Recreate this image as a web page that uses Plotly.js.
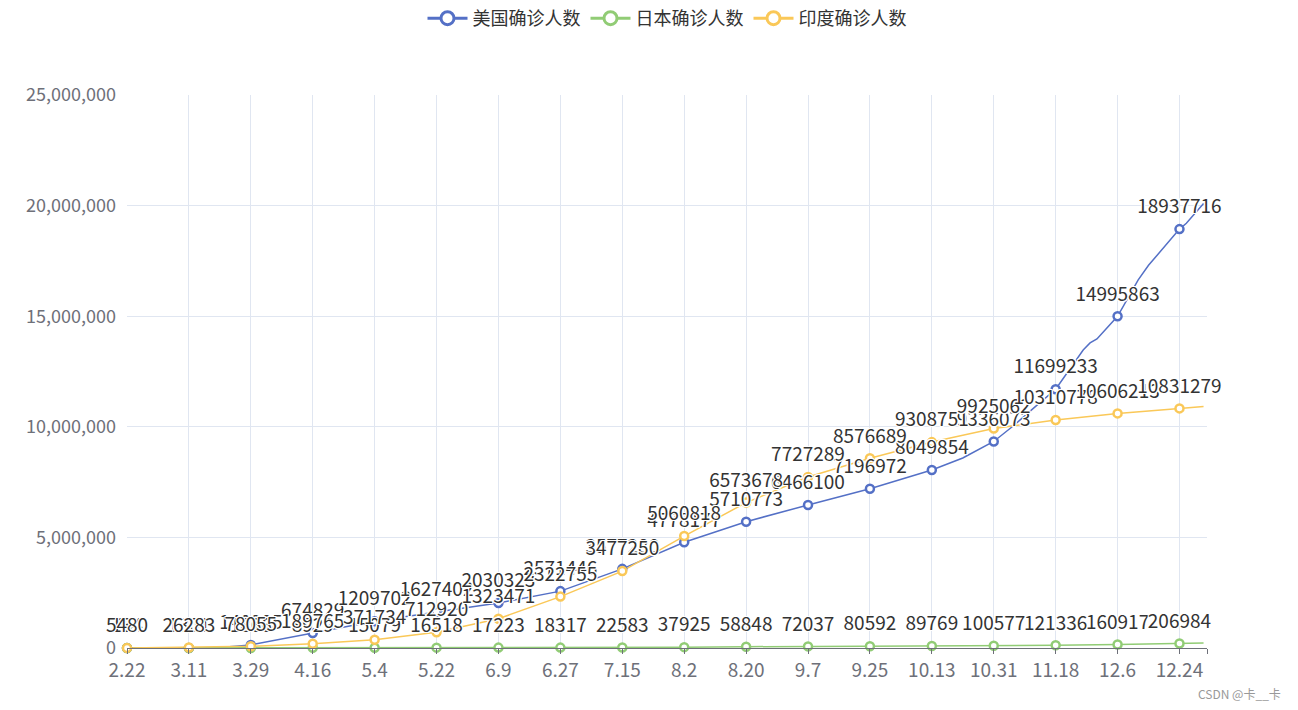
<!DOCTYPE html>
<html>
<head>
<meta charset="utf-8">
<script src="https://cdn.plot.ly/plotly-3.0.1.min.js"></script>
<style>
html,body{margin:0;padding:0;background:#fff;}
#chart{width:1298px;height:710px;}
</style>
</head>
<body>
<div id="chart"></div>
<script>
// Labelled category dates (every 18th day) and their tick labels
const tickDates = ['2020-02-22','2020-03-11','2020-03-29','2020-04-16','2020-05-04','2020-05-22','2020-06-09','2020-06-27','2020-07-15','2020-08-02','2020-08-20','2020-09-07','2020-09-25','2020-10-13','2020-10-31','2020-11-18','2020-12-06','2020-12-24'];
const tickLabels = ['2.22','3.11','3.29','4.16','5.4','5.22','6.9','6.27','7.15','8.2','8.20','9.7','9.25','10.13','10.31','11.18','12.6','12.24'];
const axisEndDate = '2021-01-01';

// Values at the labelled dates
const usLabelValues = [35, 1301, 140905, 674829, 1209702, 1627402, 2030323, 2571446, 3577280, 4778177, 5710773, 6466100, 7196972, 8049854, 9336073, 11699233, 14995863, 18937716];
const jpLabelValues = [134, 620, 1866, 8929, 15079, 16518, 17223, 18317, 22583, 37925, 58848, 72037, 80592, 89769, 100577, 121336, 160917, 206984];
const inLabelValues = [5480, 26283, 78055, 189765, 371734, 712920, 1323471, 2322755, 3477250, 5060818, 6573678, 7727289, 8576689, 9308751, 9925062, 10310778, 10606213, 10831279];

// Extra (unlabelled) points
const usExtraDates = ['2020-03-20','2020-10-22','2020-11-06','2020-11-12','2020-11-26','2020-11-28','2020-11-30','2020-12-12','2020-12-15','2020-12-26','2020-12-31'];
const usExtraValues = [19000, 8588000, 10082000, 10902000, 13470000, 13790000, 13970000, 16640000, 17300000, 19200000, 20100000];
const jpExtraDates = ['2020-12-31'];
const jpExtraValues = [231000];
const inExtraDates = ['2020-12-31'];
const inExtraValues = [10920000];

const seriesNames = ['美国确诊人数', '日本确诊人数', '印度确诊人数'];
const seriesColors = ['#5470C6', '#91CC75', '#FAC858'];

function merge(d1, v1, d2, v2) {
  const pts = d1.map((d, i) => [d, v1[i]]).concat(d2.map((d, i) => [d, v2[i]]));
  pts.sort((a, b) => a[0] < b[0] ? -1 : a[0] > b[0] ? 1 : 0);
  return {x: pts.map(p => p[0]), y: pts.map(p => p[1])};
}

const FONT = '"Noto Sans CJK SC", "Noto Sans", sans-serif';
const lines = [
  merge(tickDates, usLabelValues, usExtraDates, usExtraValues),
  merge(tickDates, jpLabelValues, jpExtraDates, jpExtraValues),
  merge(tickDates, inLabelValues, inExtraDates, inExtraValues)
];
const labelSets = [usLabelValues, jpLabelValues, inLabelValues];

const traces = [];
// lines
lines.forEach((l, i) => {
  traces.push({
    type: 'scatter', mode: 'lines', x: l.x, y: l.y,
    line: {color: seriesColors[i], width: 1.5},
    showlegend: false, hoverinfo: 'skip'
  });
});
// hollow symbols at labelled dates
labelSets.forEach((vals, i) => {
  traces.push({
    type: 'scatter', mode: 'markers', x: tickDates, y: vals,
    marker: {symbol: 'circle', size: 8, color: '#ffffff', line: {color: seriesColors[i], width: 2.5}},
    showlegend: false, hoverinfo: 'skip', cliponaxis: false
  });
});
// value labels
labelSets.forEach((vals, i) => {
  traces.push({
    type: 'scatter', mode: 'markers+text', x: tickDates, y: vals,
    text: vals.map(v => String(v)),
    marker: {size: 16, opacity: 0},
    textposition: 'top center',
    textfont: {family: FONT, size: 19, color: '#333333',
      shadow: '1px 1px 0 #fff, -1px 1px 0 #fff, 1px -1px 0 #fff, -1px -1px 0 #fff, 0 1px 0 #fff, 0 -1px 0 #fff, 1px 0 0 #fff, -1px 0 0 #fff'},
    showlegend: false, hoverinfo: 'skip', cliponaxis: false
  });
});
// legend entries
seriesNames.forEach((n, i) => {
  traces.push({
    type: 'scatter', mode: 'lines+markers', x: [null], y: [null], name: n,
    line: {color: seriesColors[i], width: 3},
    marker: {symbol: 'circle', size: 13, color: '#ffffff', line: {color: seriesColors[i], width: 3}},
    hoverinfo: 'skip'
  });
});

const layout = {
  width: 1298, height: 710,
  margin: {l: 127, r: 91, t: 95, b: 62},
  paper_bgcolor: '#ffffff', plot_bgcolor: '#ffffff',
  font: {family: FONT, size: 18, color: '#6E7079'},
  showlegend: true,
  legend: {orientation: 'h', x: 0.5, xanchor: 'center', y: 1, yref: 'container', yanchor: 'top',
    font: {family: FONT, size: 18, color: '#333333'}, itemwidth: 40, tracegroupgap: 0},
  xaxis: {
    type: 'date', range: [tickDates[0], axisEndDate],
    tickmode: 'array', tickvals: tickDates.concat([axisEndDate]), ticktext: tickLabels.concat(['']),
    showgrid: true, gridcolor: '#E0E6F1', gridwidth: 1,
    showline: true, linecolor: '#6E7079', linewidth: 1,
    ticks: 'outside', ticklen: 5, tickcolor: '#6E7079',
    tickfont: {family: FONT, size: 19, color: '#6E7079'},
    zeroline: false, fixedrange: true
  },
  yaxis: {
    range: [0, 25000000], dtick: 5000000, tick0: 0, tickformat: ',d',
    showgrid: true, gridcolor: '#E0E6F1', gridwidth: 1,
    zeroline: false, showline: false, ticks: '',
    ticklabelstandoff: 10,
    tickfont: {family: FONT, size: 18, color: '#6E7079'},
    fixedrange: true
  },
  annotations: [{
    xref: 'paper', yref: 'paper', x: 1.0704, y: -0.083, xanchor: 'right', yanchor: 'middle',
    text: 'CSDN @卡__卡', showarrow: false, font: {family: FONT, size: 12, color: '#999999'}
  }]
};

Plotly.newPlot('chart', traces, layout, {displayModeBar: false, staticPlot: true});
</script>
</body>
</html>
